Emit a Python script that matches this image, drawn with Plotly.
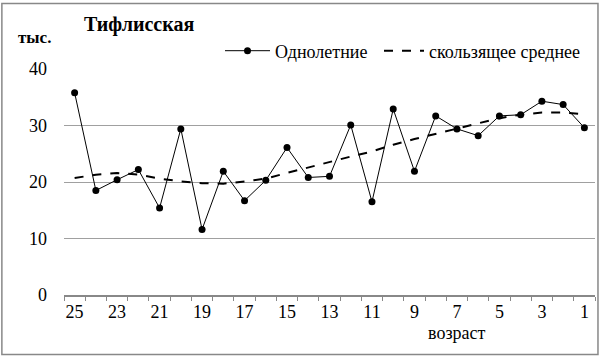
import plotly.graph_objects as go

ages = list(range(25, 0, -1))
annual = [35.8, 18.5, 20.4, 22.2, 15.4, 29.4, 11.6, 21.9, 16.7, 20.3, 26.1, 20.8, 21.0,
          30.1, 16.5, 32.9, 21.9, 31.7, 29.4, 28.2, 31.7, 31.9, 34.3, 33.7, 29.6]
moving = [20.7, 21.3, 21.6, 21.3, 20.6, 20.1, 19.8, 19.7, 20.1, 20.6, 21.6, 22.6, 23.6,
          24.5, 25.4, 26.6, 27.6, 28.5, 29.4, 30.3, 31.3, 31.9, 32.3, 32.3, 32.0]
x_labels = list(range(25, 0, -2))
y_ticks = [0, 10, 20, 30, 40]

FONT = "Liberation Serif"

fig = go.Figure()
fig.add_trace(go.Scatter(x=ages, y=annual, mode="lines+markers", name="Однолетние",
                         line=dict(color="black", width=1),
                         marker=dict(color="black", size=7), legend="legend"))
fig.add_trace(go.Scatter(x=ages, y=moving, mode="lines", name="скользящее среднее",
                         line=dict(color="black", width=2, dash="dash"), legend="legend2"))

leg_common = dict(orientation="h", xanchor="left", yanchor="middle",
                  font=dict(family=FONT, size=18), bgcolor="rgba(0,0,0,0)")

fig.update_layout(
    width=600, height=358,
    margin=dict(l=64, r=5, t=69, b=63),
    paper_bgcolor="white", plot_bgcolor="white",
    font=dict(family=FONT, size=18, color="black"),
    showlegend=True,
    legend=dict(x=(220 - 64) / 531, y=(295 - 51) / 226, itemwidth=45, **leg_common),
    legend2=dict(x=(379 - 64) / 531, y=(295 - 51) / 226, itemwidth=40, **leg_common),
    xaxis=dict(range=[25.5, 0.5], tickvals=x_labels, ticktext=[str(v) for v in x_labels],
               ticks="", showgrid=False, zeroline=False,
               showline=True, linecolor="#888888", linewidth=1.5,
               tickfont=dict(family=FONT, size=18),
               minor=dict(ticks="outside", ticklen=4, tick0=0.5, dtick=1, tickcolor="#888888",
                          showgrid=False)),
    yaxis=dict(range=[0, 40], tickvals=y_ticks, showgrid=True, gridcolor="#a0a0a0",
               gridwidth=1, zeroline=False, showline=False, ticks="",
               ticklabelstandoff=16, tickfont=dict(family=FONT, size=18)),
    shapes=[dict(type="rect", xref="paper", yref="paper", x0=-0.117, x1=1.0056,
                 y0=-0.263, y1=1.29, line=dict(color="#888888", width=1.5))],
    annotations=[
        dict(text="<b>Тифлисская</b>", xref="paper", yref="paper", x=(82 - 64) / 531,
             y=(295 - 25) / 226, xanchor="left", yanchor="middle", showarrow=False,
             font=dict(family=FONT, size=20)),
        dict(text="<b>тыс.</b>", xref="paper", yref="paper", x=(16 - 64) / 531,
             y=(295 - 38) / 226, xanchor="left", yanchor="middle", showarrow=False,
             font=dict(family=FONT, size=17)),
        dict(text="возраст", xref="paper", yref="paper", x=(456 - 64) / 531,
             y=(295 - 333) / 226, xanchor="center", yanchor="middle", showarrow=False,
             font=dict(family=FONT, size=18)),
    ],
)

fig.write_html("out.html", config={"displayModeBar": False},
               post_script="document.body.style.margin='0';document.body.style.overflow='hidden';")
